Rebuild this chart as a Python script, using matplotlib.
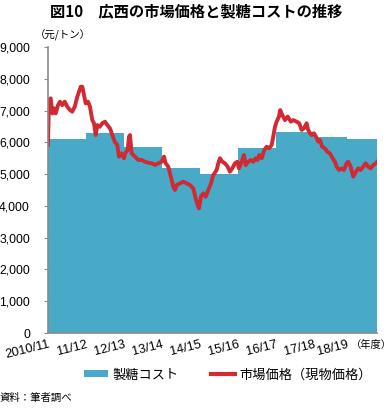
import matplotlib
matplotlib.use("Agg")
import matplotlib.pyplot as plt
from matplotlib.patches import Patch
from matplotlib.lines import Line2D
import numpy as np

plt.rcParams['font.family'] = ['Noto Sans CJK JP', 'DejaVu Sans']

# ---- data ----
season_labels = ["2010/11", "11/12", "12/13", "13/14", "14/15", "15/16", "16/17", "17/18", "18/19"]
season_start = [0, 1, 2, 3, 4, 5, 6, 7, 7.87]
period_end = 8.66
cost_values = [6100, 6300, 5840, 5180, 5000, 5810, 6310, 6160, 6090]

price_t = [0, 0.026, 0.071, 0.113, 0.158, 0.203, 0.263, 0.316, 0.376, 0.439, 0.508, 0.579,
           0.639, 0.703, 0.771, 0.861, 0.903, 0.947, 0.992, 1.053, 1.105, 1.166, 1.211, 1.255,
           1.297, 1.361, 1.429, 1.5, 1.561, 1.632, 1.692, 1.755, 1.824, 1.868, 1.929, 2.0,
           2.026, 2.097, 2.132, 2.158, 2.203, 2.289, 2.376, 2.466, 2.553, 2.639, 2.729, 2.816,
           2.903, 2.992, 3.053, 3.097, 3.166, 3.211, 3.255, 3.297, 3.342, 3.387, 3.474, 3.561,
           3.65, 3.737, 3.824, 3.887, 3.939, 3.974, 4.026, 4.087, 4.15, 4.218, 4.289, 4.342,
           4.395, 4.439, 4.482, 4.526, 4.587, 4.658, 4.729, 4.789, 4.85, 4.921, 4.982, 5.026,
           5.097, 5.158, 5.203, 5.271, 5.342, 5.403, 5.466, 5.518, 5.561, 5.624, 5.692, 5.755,
           5.816, 5.887, 5.929, 5.974, 6.018, 6.079, 6.113, 6.166, 6.237, 6.308, 6.395, 6.455,
           6.545, 6.613, 6.676, 6.737, 6.808, 6.85, 6.895, 6.939, 7.0, 7.053, 7.113, 7.158,
           7.218, 7.289, 7.35, 7.421, 7.492, 7.553, 7.597, 7.666, 7.729, 7.789, 7.861, 7.903,
           7.966, 8.034, 8.105, 8.166, 8.229, 8.297, 8.361, 8.429, 8.492, 8.561, 8.632, 8.665]
price_v = [5920, 7330, 7385, 6910, 7070, 6910, 7170, 7280, 7170, 7280, 7120, 7015,
           6965, 7120, 7435, 7750, 7750, 7490, 7225, 7280, 7120, 6700, 6600, 6230,
           6545, 6490, 6600, 6650, 6545, 6440, 6230, 6020, 5915, 5550, 5650, 5500,
           5650, 5760, 6180, 6230, 5650, 5550, 5445, 5445, 5390, 5360, 5340, 5290,
           5340, 5390, 5550, 5340, 5235, 5025, 4815, 4605, 4500, 4655, 4710, 4760,
           4710, 4655, 4550, 4235, 4030, 3920, 4290, 4395, 4290, 4500, 4700, 4950,
           5050, 5130, 5340, 5500, 5390, 5340, 5235, 5075, 5180, 5340, 5390, 5180,
           5390, 5600, 5285, 5390, 5445, 5390, 5500, 5445, 5600, 5500, 5760, 5860,
           5810, 5915, 6180, 6490, 6650, 6810, 7015, 6860, 6700, 6810, 6650, 6700,
           6650, 6600, 6390, 6440, 6600, 6390, 6285, 6230, 6285, 6180, 6020, 6075,
           5860, 5810, 5705, 5650, 5500, 5390, 5235, 5130, 5180, 5130, 5340, 5390,
           5235, 4920, 5075, 5180, 5130, 5235, 5340, 5235, 5180, 5285, 5340, 5390]

y_ticks = [0, 1000, 2000, 3000, 4000, 5000, 6000, 7000, 8000, 9000]

BLUE = '#48aac6'
RED = '#d22a33'
GRAY = '#8a8a8a'

fig = plt.figure(figsize=(3.92, 4.08), dpi=100)
ax = fig.add_axes([48/392, 1-333/408, 329/392, 286/408])

step_x = season_start + [period_end]
step_y = cost_values + [cost_values[-1]]
ax.fill_between(step_x, step_y, 0, step='post', color=BLUE, linewidth=0)
ax.plot(price_t, price_v, color=RED, linewidth=2.8, solid_joinstyle='round')

ax.set_xlim(0, period_end)
ax.set_ylim(0, 9000)

for s in ['top', 'right']:
    ax.spines[s].set_visible(False)
for s in ['left', 'bottom']:
    ax.spines[s].set_color(GRAY)
    ax.spines[s].set_linewidth(1.2)

ax.set_yticks(y_ticks)
ax.set_yticklabels([f"{v:,}" for v in y_ticks], family='Liberation Sans', fontsize=8.8)
ax.tick_params(axis='y', length=3, color=GRAY, pad=10)

ax.set_xticks(season_start)
ax.set_xticklabels(season_labels, family='Liberation Sans', fontsize=9.2,
                   rotation=14, ha='right', va='top', rotation_mode='anchor')
ax.tick_params(axis='x', length=0, pad=4)

fig.text(0.5, 1-11/408, "図10　広西の市場価格と製糖コストの推移", ha='center', va='center',
         fontsize=11, fontweight='bold')
fig.text(35/392, 1-35/408, "（元/トン）", ha='left', va='center', fontsize=7.5)
fig.text(351/392, 1-345/408, "（年度）", ha='left', va='center', fontsize=7.4)
fig.text(0.0, 1-398/408, "資料：筆者調べ", ha='left', va='center', fontsize=7.5)

handles = [Patch(facecolor=BLUE, edgecolor='none'),
           Line2D([0], [0], color=RED, linewidth=3.0)]
fig.legend(handles, ["製糖コスト", "市場価格（現物価格）"], loc='center left',
           bbox_to_anchor=(72/392, 1-375/408), ncol=2, frameon=False,
           fontsize=9.5, handlelength=1.8, handleheight=0.45, columnspacing=2.4,
           handletextpad=0.4)

fig.savefig("out.png", dpi=100)
